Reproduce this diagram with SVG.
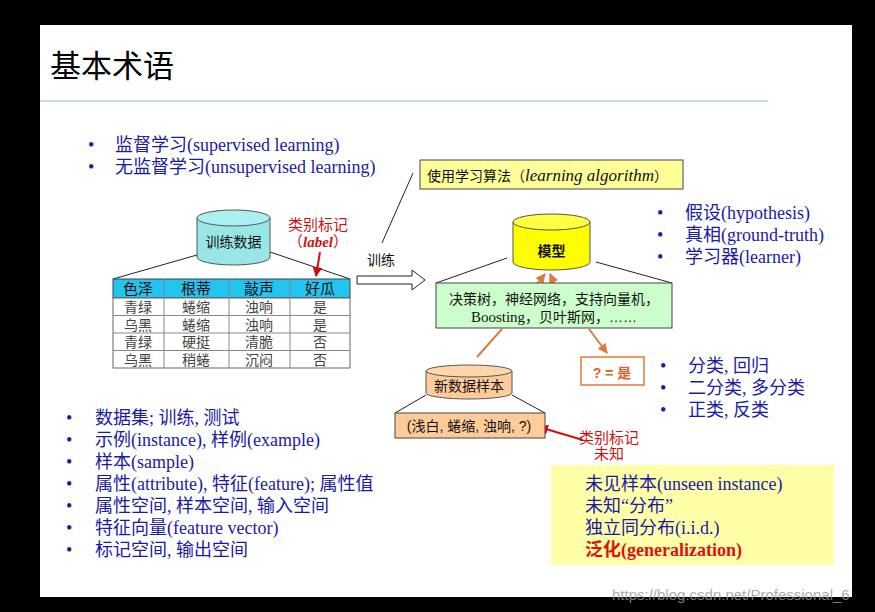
<svg xmlns="http://www.w3.org/2000/svg" width="875" height="612" viewBox="0 0 875 612">
<style>
.b{font-family:"Liberation Serif","Noto Sans CJK SC",serif;font-size:18px;fill:#1a1aa6}
.s{font-family:"Liberation Sans","Noto Sans CJK SC",sans-serif;font-size:14px;fill:#111}
.r{font-family:"Liberation Sans","Noto Sans CJK SC",sans-serif;font-size:15px;fill:#cc1111}
.ln{stroke:#222;stroke-width:1;fill:none}
.or{stroke:#e07a3a;stroke-width:2;fill:none}
.cell{fill:#fff;stroke:#666;stroke-width:1}
</style>
<defs>
<marker id="oa" viewBox="0 0 10 10" refX="9" refY="5" markerWidth="5" markerHeight="5" orient="auto"><path d="M0,0L10,5L0,10z" fill="#e07a3a"/></marker>
<marker id="ra" viewBox="0 0 10 10" refX="9" refY="5" markerWidth="5" markerHeight="5" orient="auto"><path d="M0,0L10,5L0,10z" fill="#d01010"/></marker>
</defs>
<rect width="875" height="612" fill="#000"/>
<rect x="40" y="25" width="812" height="572" fill="#fff"/>
<text x="50" y="77" font-family="Liberation Serif,Noto Sans CJK SC,serif" font-size="31" fill="#000">基本术语</text>
<line x1="40" y1="101" x2="768" y2="101" stroke="#bfe3df" stroke-width="2"/>

<g id="bullets-top" class="b">
<text x="88" y="151">•</text><text x="115" y="151">监督学习(supervised learning)</text>
<text x="88" y="173">•</text><text x="115" y="173">无监督学习(unsupervised learning)</text>
</g>

<g id="connectors">
<line class="ln" x1="413" y1="173" x2="382" y2="243"/>
<line class="ln" x1="197" y1="255" x2="113" y2="279"/>
<line class="ln" x1="270" y1="252" x2="350" y2="279"/>
<line class="ln" x1="507" y1="258" x2="436" y2="283"/>
<line class="ln" x1="596" y1="262" x2="672" y2="283"/>
<line class="ln" x1="426" y1="395" x2="395" y2="413"/>
<line class="ln" x1="512" y1="395" x2="545" y2="413"/>
<line x1="320" y1="252" x2="316" y2="276" stroke="#d01010" stroke-width="2" marker-end="url(#ra)"/>
<line x1="583" y1="440" x2="539" y2="427" stroke="#d01010" stroke-width="2" marker-end="url(#ra)"/>
<line class="or" x1="537" y1="284" x2="545" y2="274" marker-end="url(#oa)"/>
<line class="or" x1="555" y1="285" x2="550" y2="274" marker-end="url(#oa)"/>
<line class="or" x1="477" y1="357" x2="502" y2="329"/>
<line class="or" x1="589" y1="329" x2="607" y2="353" marker-end="url(#oa)"/>
<path d="M357,276H412V270L425,280L412,290V284H357z" fill="#fff" stroke="#222"/>
</g>

<g id="algo">
<rect x="420" y="160" width="263" height="29" fill="#ffff99" stroke="#444"/>
<text x="427" y="181" class="s" font-size="16">使用学习算法（<tspan font-family="Liberation Serif" font-style="italic" font-size="17">learning algorithm</tspan>）</text>
</g>

<g id="train-data">
<path d="M197,218V257A36.5,8 0 0 0 270,257V218" fill="#99e6e6" stroke="#555"/>
<ellipse cx="233.5" cy="218" rx="36.5" ry="8" fill="#aaf0f0" stroke="#555"/>
<text x="233.5" y="247" class="s" font-size="15" text-anchor="middle">训练数据</text>
</g>
<g id="label-note">
<text x="318" y="230" class="r" text-anchor="middle">类别标记</text>
<text x="318" y="247" class="r" text-anchor="middle">（<tspan font-family="Liberation Serif" font-style="italic" font-weight="bold">label</tspan>）</text>
</g>

<g id="table" class="s" text-anchor="middle">
<rect x="113" y="279" width="237" height="19" fill="#22c4f0" stroke="#444"/>
<rect class="cell" x="113" y="298" width="237" height="70"/>
<g stroke="#888"><line x1="113" y1="315.5" x2="350" y2="315.5"/><line x1="113" y1="333" x2="350" y2="333"/><line x1="113" y1="350.5" x2="350" y2="350.5"/>
<line x1="164" y1="279" x2="164" y2="368"/><line x1="229" y1="279" x2="229" y2="368"/><line x1="290" y1="279" x2="290" y2="368"/></g>
<text x="138" y="294" font-size="15">色泽</text><text x="196" y="294" font-size="15">根蒂</text><text x="259" y="294" font-size="15">敲声</text><text x="320" y="294" font-size="15">好瓜</text>
<g fill="#444" font-size="14">
<text x="138" y="312">青绿</text><text x="196" y="312">蜷缩</text><text x="259" y="312">浊响</text><text x="320" y="312">是</text>
<text x="138" y="330">乌黑</text><text x="196" y="330">蜷缩</text><text x="259" y="330">浊响</text><text x="320" y="330">是</text>
<text x="138" y="347">青绿</text><text x="196" y="347">硬挺</text><text x="259" y="347">清脆</text><text x="320" y="347">否</text>
<text x="138" y="365">乌黑</text><text x="196" y="365">稍蜷</text><text x="259" y="365">沉闷</text><text x="320" y="365">否</text>
</g>
</g>

<text id="train-label" x="367" y="265" class="s" font-size="17">训练</text>

<g id="model">
<path d="M513,222V262A38.5,8 0 0 0 590,262V222" fill="#ffff00" stroke="#555"/>
<ellipse cx="551.5" cy="222" rx="38.5" ry="8" fill="#ffff44" stroke="#555"/>
<text x="551.5" y="256" class="s" font-size="19" font-weight="bold" text-anchor="middle">模型</text>
</g>

<g id="algos">
<rect x="436" y="283" width="236" height="45" fill="#ccffcc" stroke="#444"/>
<text x="554" y="304" class="s" text-anchor="middle" font-size="15">决策树，神经网络，支持向量机，</text>
<text x="554" y="322" class="s" text-anchor="middle" font-size="15"><tspan font-family="Liberation Serif" font-size="15">Boosting</tspan>，贝叶斯网，……</text>
</g>

<g id="result">
<rect x="581" y="357" width="63" height="28" fill="#fff" stroke="#e07a3a" stroke-width="1.5"/>
<text x="612" y="378" class="s" font-size="17" font-weight="bold" text-anchor="middle" style="fill:#e0602a">? = 是</text>
</g>

<g id="new-data">
<path d="M426,371V393A43,6 0 0 0 512,393V371" fill="#ffcc99" stroke="#555"/>
<ellipse cx="469" cy="371" rx="43" ry="6" fill="#ffd6aa" stroke="#555"/>
<text x="469" y="391" class="s" text-anchor="middle">新数据样本</text>
</g>
<g id="new-sample">
<rect x="395" y="413" width="150" height="25" fill="#ffcc99" stroke="#444"/>
<text x="469" y="431" class="s" font-size="15" text-anchor="middle">(浅白, 蜷缩, 浊响, ?)</text>
</g>
<g id="unknown-note">
<text x="609" y="443" class="r" text-anchor="middle">类别标记</text>
<text x="609" y="459" class="r" text-anchor="middle">未知</text>
</g>

<g id="bullets-right" class="b">
<text x="657" y="219">•</text><text x="685" y="219">假设(hypothesis)</text>
<text x="657" y="241">•</text><text x="685" y="241">真相(ground-truth)</text>
<text x="657" y="263">•</text><text x="685" y="263">学习器(learner)</text>
<text x="660" y="372">•</text><text x="688" y="372">分类, 回归</text>
<text x="660" y="394">•</text><text x="688" y="394">二分类, 多分类</text>
<text x="660" y="416">•</text><text x="688" y="416">正类, 反类</text>
</g>

<g id="bullets-bottom" class="b">
<text x="66" y="424">•</text><text x="95" y="424">数据集; 训练, 测试</text>
<text x="66" y="446">•</text><text x="95" y="446">示例(instance), 样例(example)</text>
<text x="66" y="468">•</text><text x="95" y="468">样本(sample)</text>
<text x="66" y="490">•</text><text x="95" y="490">属性(attribute), 特征(feature); 属性值</text>
<text x="66" y="512">•</text><text x="95" y="512">属性空间, 样本空间, 输入空间</text>
<text x="66" y="534">•</text><text x="95" y="534">特征向量(feature vector)</text>
<text x="66" y="556">•</text><text x="95" y="556">标记空间, 输出空间</text>
</g>

<g id="generalization">
<rect x="551" y="465" width="283" height="100" fill="#ffffa8"/>
<text x="585" y="490" class="b">未见样本(unseen instance)</text>
<text x="585" y="512" class="b">未知“分布”</text>
<text x="585" y="534" class="b">独立同分布(i.i.d.)</text>
<text x="585" y="556" class="b" font-weight="bold" style="fill:#e01010">泛化(generalization)</text>
</g>
<text x="612" y="600" font-family="Liberation Sans,sans-serif" font-size="15" fill="#999" opacity="0.8">https://blog.csdn.net/Professional_6</text>
</svg>
